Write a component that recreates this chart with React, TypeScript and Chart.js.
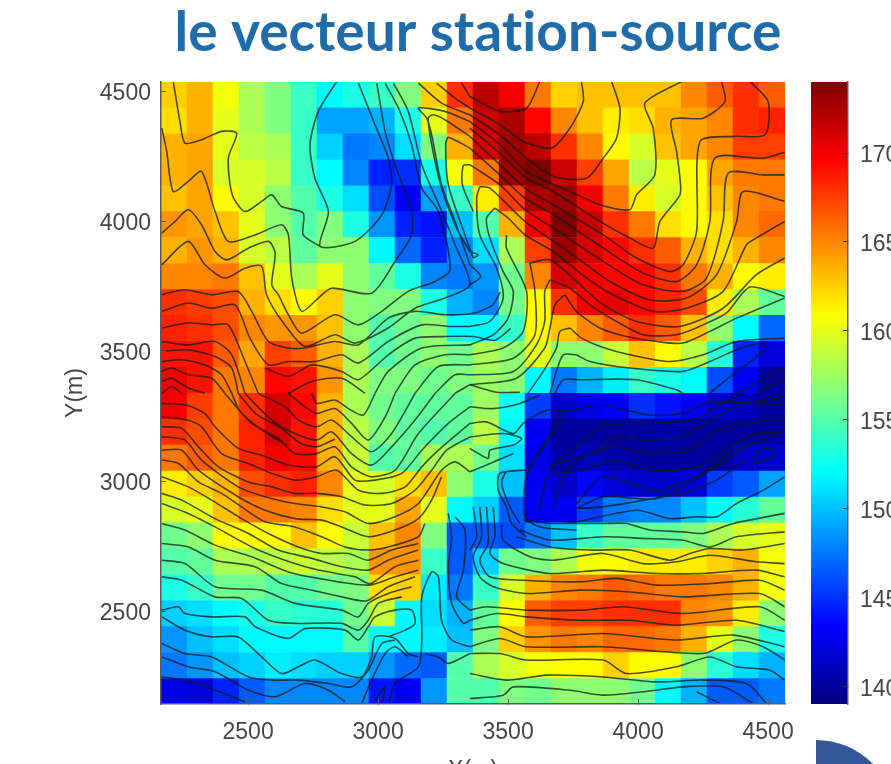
import React, { useEffect, useRef } from "react";
import { Chart, registerables } from "chart.js";

Chart.register(...registerables);

const titleText = "le vecteur station-source";
const xCenters = [2215, 2315, 2415, 2515, 2615, 2715, 2815, 2915, 3015, 3115, 3215, 3315, 3415, 3515, 3615, 3715, 3815, 3915, 4015, 4115, 4215, 4315, 4415, 4515];
const yCenters = [4488, 4389, 4289, 4189, 4089, 3990, 3890, 3790, 3690, 3591, 3491, 3391, 3291, 3192, 3092, 2992, 2892, 2793, 2693, 2593, 2493, 2394, 2294, 2194];
const xTicks = [2500, 3000, 3500, 4000, 4500];
const yTicks = [2500, 3000, 3500, 4000, 4500];
const colorTicks = [140, 145, 150, 155, 160, 165, 170];

const row00 = [162.5, 163.5, 160.5, 158, 156.5, 154, 152, 153, 154, 156.5, 162.5, 168, 172, 170, 165.5, 162.5, 163, 163, 163, 163, 165, 166.5, 168, 166.5];
const row01 = [162, 163.5, 160, 158, 156.5, 154, 149, 149, 149.5, 153, 160, 165.5, 171.5, 172.5, 169.5, 165, 163, 161.5, 162, 163.5, 164, 165, 168, 168.5];
const row02 = [163.5, 164, 160, 158.5, 158, 154, 150.5, 147.5, 148, 151, 156.5, 163.5, 171, 173, 172, 168, 165, 161, 159.5, 163, 164, 165, 167.5, 167.5];
const row03 = [163.5, 164, 159.5, 159.5, 158.5, 154, 152, 148, 144.5, 145, 153, 160.5, 165.5, 173, 174, 171.5, 167.5, 164, 158.5, 160, 161, 164, 165.5, 165.5];
const row04 = [163, 164, 161, 159.5, 157, 155, 153, 151, 146, 143, 149, 154, 161.5, 167.5, 172.5, 173, 170, 165.5, 161.5, 159.5, 161, 163, 165, 165.5];
const row05 = [164.5, 164, 163, 160, 157, 155, 156.5, 153, 148.5, 144.5, 144, 150, 155, 163.5, 170, 174, 171.5, 168, 165.5, 162, 161, 162, 165, 166];
const row06 = [163.5, 164.5, 163.5, 159.5, 158.5, 155.5, 157, 157, 152, 147, 144.5, 148, 151, 158, 167.5, 173, 171, 169.5, 168, 166.5, 163.5, 162, 163.5, 165];
const row07 = [165, 165, 165.5, 163, 160, 158, 160, 157, 155.5, 153, 148, 147.5, 148.5, 156, 165, 171, 170, 169.5, 169.5, 168, 165.5, 163.5, 161, 161.5];
const row08 = [168, 167.5, 167, 163.5, 162, 161, 162.5, 157, 156.5, 156.5, 153, 149.5, 148, 156, 161, 168, 170, 170.5, 169.5, 168.5, 167, 161.5, 158, 155.5];
const row09 = [168.5, 168, 167, 165, 164.5, 164.5, 163, 157, 155, 156, 157, 152, 152, 154, 161, 163, 165, 166.5, 168, 166.5, 163, 157, 152, 147];
const row10 = [169, 169, 166.5, 164, 167.5, 166.5, 163.5, 158, 155, 156, 157, 156, 158, 157, 160, 157, 157, 159, 163, 161, 158.5, 153.5, 144.5, 142];
const row11 = [170, 169, 165.5, 165, 169.5, 169, 164.5, 158, 156.5, 156.5, 156, 156.5, 157.5, 157, 152, 147.5, 149.5, 151.5, 154, 153, 152, 146, 143, 140];
const row12 = [170, 167.5, 165.5, 168, 171, 169.5, 163.5, 158, 156, 155.5, 155.5, 155.5, 157.5, 152.5, 145.5, 141.5, 142.5, 143, 145, 144, 143, 141.5, 141, 140];
const row13 = [168, 167, 165.5, 168.5, 171, 169, 163.5, 158.5, 156.5, 155.5, 155, 155.5, 158.5, 152, 143, 140, 140, 140, 140, 140.5, 140, 140, 140, 140];
const row14 = [165.5, 166.5, 165.5, 168.5, 170, 169.5, 163.5, 159, 155, 155.5, 158, 158, 156, 151, 142.5, 140.5, 141, 140.5, 140, 140, 140, 140, 141.5, 141.5];
const row15 = [161.5, 162.5, 163.5, 167, 168, 168.5, 165, 160, 159.5, 162, 163, 157, 153, 150, 143, 141.5, 143.5, 142, 141.5, 141.5, 142, 145.5, 146.5, 149];
const row16 = [159.5, 160, 163, 165.5, 165.5, 165, 162, 160, 160, 164, 160, 152, 150.5, 146.5, 143, 143, 145.5, 147.5, 148, 148, 150, 152, 153.5, 155.5];
const row17 = [156, 157, 161, 161, 161, 163, 161, 159, 163, 165, 156.5, 146.5, 146.5, 146, 147.5, 150, 154, 155.5, 155.5, 155.5, 156.5, 158, 159.5, 160];
const row18 = [155, 155.5, 158, 158, 158.5, 159, 158.5, 158, 164.5, 164.5, 154, 146.5, 150.5, 156, 156.5, 158, 160.5, 161, 161.5, 161.5, 161.5, 162.5, 163.5, 160.5];
const row19 = [153, 154, 156, 156, 155, 155, 156, 156.5, 162, 162.5, 151.5, 147.5, 154, 159.5, 163.5, 165, 165.5, 166.5, 166, 165.5, 165.5, 165, 163.5, 160.5];
const row20 = [150.5, 151, 152, 153, 154, 153.5, 153.5, 156, 159, 152, 151, 149.5, 155.5, 161, 166.5, 167.5, 167.5, 168, 168, 168, 165, 164.5, 161.5, 157];
const row21 = [148.5, 150, 151, 152, 152, 152, 152, 155, 152, 152, 151.5, 150, 156.5, 162.5, 164.5, 165.5, 165, 166, 166, 165.5, 163.5, 160, 157, 153];
const row22 = [147.5, 148.5, 150, 150.5, 151.5, 151, 150.5, 150.5, 148.5, 147, 146.5, 155, 158, 159.5, 160.5, 161, 161, 162.5, 161, 161, 157, 153.5, 151, 149.5];
const row23 = [142.5, 142, 144.5, 146.5, 148, 148, 148, 148, 144, 143, 148.5, 155, 155, 156.5, 156, 157, 157, 157, 156, 152, 149.5, 146.5, 146.5, 147.5];
const rows = [row00, row01, row02, row03, row04, row05, row06, row07, row08, row09, row10, row11, row12, row13, row14, row15, row16, row17, row18, row19, row20, row21, row22, row23];

// Contour lines, in axis units: x, y, x, y, ...
const contoursNorthWest = [
  [2841,4540,2770,4425,2738,4297,2757,4168,2809,4040,2777,3906,2911,3925,3014,4027,3052,4143,3039,4245,2988,4374,2924,4534],
  [2212,4540,2238,4386,2257,4303,2321,4316,2398,4348,2456,4341,2424,4245,2439,4104,2488,4040,2552,4079,2591,4104,2629,4059,2712,4034,2712,3950,2777,3906],
  [2168,4361,2187,4271,2212,4117,2270,4156,2321,4194,2373,4040,2424,3925,2527,3950,2629,3989,2655,3950,2668,3784,2706,3656,2770,3707,2821,3745,2975,3726,3065,3848,3129,3950,3129,4040,3065,4220,3027,4348,2995,4534],
  [2168,3957,2219,4002,2270,4047,2321,3989,2373,3886,2418,3854,2501,3899,2578,3925,2604,3880,2591,3758,2616,3720,2655,3643,2706,3572,2834,3643,2924,3604,3014,3656,3116,3733,3219,3771,3277,3816,3232,4040,3168,4130,3129,4297,3084,4425,3027,4534],
  [2168,3835,2270,3925,2334,3835,2411,3784,2488,3822,2552,3829,2571,3720,2636,3611,2719,3521,2834,3566,2911,3534,3039,3592,3142,3668,3257,3707,3353,3758,3296,3912,3245,4040,3168,4220,3116,4425,3059,4534],
  [3155,4534,3244,4457,3353,4412],
  [3225,4534,3296,4476,3353,4438],
  [3321,4534,3353,4482],
  [3353,4386,3257,4425,3155,4438,3187,4399,3206,4335,3244,4143,3296,4002,3353,3835],
  [3353,4329,3257,4393,3212,4412,3193,4399,3206,4297,3244,4130,3302,3976,3353,3886],
  [3353,4284,3270,4325,3260,4297,3270,4143,3334,3950,3366,3861],
  [3353,4220,3328,4217,3324,4143,3366,4040],
  [3353,3758,3395,3790,3353,3835],
  [3353,3886,3385,3873,3366,3861],
  [2168,3720,2257,3739,2360,3720,2462,3732,2514,3656,2578,3540,2655,3515,2719,3515,2834,3540,2924,3527,3039,3630,3142,3656,3257,3643,3366,3649,3440,3680,3470,3730],
  [2168,3656,2270,3688,2360,3668,2450,3681,2507,3553,2578,3450,2655,3463,2757,3463,2860,3489,2924,3457,3039,3540,3168,3604,3270,3598,3353,3598],
  [2168,3592,2270,3611,2360,3604,2424,3604,2488,3463,2539,3341],
  [2168,3540,2270,3527,2373,3540,2437,3489,2488,3341],
  [2168,3502,2270,3508,2373,3482,2437,3438,2462,3341],
  [2168,3463,2245,3470,2334,3450,2398,3412,2437,3341],
  [2168,3425,2206,3438,2270,3412,2360,3399,2411,3341],
  [2168,3386,2206,3399,2270,3361,2334,3341],
  [2168,3341,2206,3367,2245,3341],
  [2565,3438,2655,3406,2745,3450,2860,3425,2924,3393,3039,3489,3142,3553,3257,3559,3366,3559,3450,3545,3510,3590],
  [2655,3341,2745,3386,2860,3399,2950,3341],
  [2988,3341,3039,3425,3168,3515,3353,3527],
  [3065,3341,3142,3450,3257,3489,3353,3489],
  [3142,3341,3232,3444,3353,3450],
  [3219,3341,3296,3412,3353,3412],
  [3296,3341,3353,3374],
];
const contoursSouthWest = [
  [2745,3340,2764,3302,2834,3315,2886,3282,2943,3257,2988,3340],
  [2655,3340,2719,3289,2764,3263,2834,3282,2898,3225,2962,3161,3027,3250,3065,3340],
  [2539,3340,2642,3289,2693,3238,2764,3212,2821,3238,2898,3174,2975,3116,3052,3186,3142,3340],
  [2488,3340,2591,3238,2680,3186,2764,3161,2821,3193,2898,3109,2975,3065,3052,3135,3142,3238,3219,3340],
  [2411,3340,2514,3225,2616,3167,2680,3109,2764,3109,2834,3135,2898,3058,2975,3020,3065,3045,3155,3186,3296,3340],
  [2462,3341,2530,3262,2630,3205,2700,3150,2764,3135,2834,3165],
  [2437,3341,2470,3270,2560,3195,2650,3140],
  [2168,3302,2264,3295,2334,3263,2373,3212,2462,3129,2552,3103,2655,3065,2764,3058,2834,3097,2911,3007,2988,3007,3091,3033,3168,3122,3270,3225,3353,3289],
  [2168,3250,2264,3238,2321,3212,2398,3109,2501,3071,2591,3033,2680,3007,2764,3020,2841,3045,2924,2968,3014,2956,3104,2981,3168,3058,3232,3122,3353,3225],
  [2168,3212,2245,3206,2309,3135,2386,3058,2501,3000,2591,2981,2680,2956,2764,2956,2860,2943,2950,2911,3052,2917,3142,2968,3206,3045,3264,3122,3353,3173],
  [2168,3174,2257,3161,2321,3084,2462,2981,2565,2943,2680,2917,2783,2904,2873,2885,2962,2840,3065,2866,3155,2917,3244,3045,3296,3077,3353,3039],
  [2168,3122,2245,3122,2309,3045,2462,2943,2565,2891,2680,2859,2783,2853,2860,2827,2962,2789,3065,2815,3155,2859,3206,2930,3244,3020],
  [2168,3084,2232,3071,2309,3000,2398,2956,2475,2904,2565,2847,2680,2827,2783,2789,2873,2750,2962,2738,3039,2750,3155,2789,3180,2840],
  [2168,3020,2270,2981,2360,2930,2475,2859,2578,2802,2693,2750,2783,2725,2886,2725,2962,2699,3052,2738,3155,2763],
  [2168,2956,2245,2930,2373,2859,2501,2802,2616,2738,2745,2706,2860,2674,2962,2661,3039,2699,3155,2738],
  [2168,2917,2270,2879,2373,2827,2514,2750,2642,2699,2770,2661,2911,2635,2969,2609,3065,2674,3155,2699],
  [2168,2840,2257,2815,2373,2757,2514,2712,2655,2654,2770,2629,2962,2603,3065,2635,3155,2661],
  [2168,2763,2270,2750,2373,2699,2527,2674,2629,2609,2745,2584,2860,2558,2956,2543,3039,2597,3142,2635],
  [2168,2699,2257,2686,2373,2597,2552,2584,2680,2533,2860,2507,2924,2481,2962,2533,3039,2571,3129,2597],
  [2168,2635,2245,2622,2373,2558,2475,2552,2578,2468,2680,2456,2860,2456,2924,2430,2962,2468,3001,2533,3091,2558],
  [2168,2507,2232,2520,2257,2494,2360,2481,2488,2481,2527,2443,2655,2398,2719,2436,2873,2430,2924,2392,2962,2443,2988,2481,3065,2507,3129,2507,3142,2456,3104,2430,3039,2404],
  [2168,2481,2257,2430,2360,2404,2462,2404,2552,2327,2629,2263,2693,2289,2757,2315,2860,2263,2937,2250,2975,2327,2988,2404,3065,2398,3116,2340,3155,2327],
  [2168,2379,2257,2340,2360,2327,2501,2250,2591,2238,2693,2238,2809,2225,2898,2212,2962,2276,3014,2379,3065,2392],
  [2168,2327,2270,2289,2373,2270,2501,2199,2604,2174,2719,2225,2809,2199,2873,2154],
  [2168,2250,2257,2238,2360,2206,2488,2154],
  [2937,2148,2975,2238,3027,2340,3065,2366,3116,2327],
  [2988,2161,3027,2212,3014,2142],
  [3039,2142,3065,2225,3155,2289,3168,2392,3168,2558,3206,2654,3232,2635,3244,2468,3283,2392,3353,2366],
  [3180,2340,3232,2327,3270,2302,3353,2340],
  [3270,2879,3283,2789,3270,2674,3283,2533,3328,2456,3353,2468],
  [3296,2866,3334,2815,3328,2661,3302,2558,3353,2507],
];
const contoursNorthEast = [
  [3353,4482,3468,4425,3571,4438,3622,4540],
  [3353,4438,3468,4374,3558,4309,3667,4284,3738,4361,3789,4463,3782,4540],
  [3353,4412,3468,4335,3571,4245,3674,4175,3802,4168,3866,4245,3917,4322,3930,4438,3898,4540],
  [3353,4386,3468,4297,3571,4194,3738,4117,3853,4066,3968,4047,3994,4104,4064,4181,4058,4361,4026,4457,4167,4540],
  [3353,4361,3468,4265,3571,4168,3674,4117,3853,4002,3968,3938,4058,3899,4084,4002,4161,4104,4161,4168,4148,4271,4129,4393,4250,4399,4334,4463,4321,4540],
  [3353,4329,3468,4220,3565,4130,3674,4066,3866,3950,3994,3861,4122,3809,4173,3835,4225,3963,4238,4309,4366,4329,4488,4335,4500,4463,4430,4540],
  [3353,4284,3468,4181,3565,4091,3674,4027,3866,3899,4020,3803,4148,3771,4225,3835,4276,4002,4295,4245,4481,4245,4564,4268],
  [3353,4220,3468,4143,3565,4047,3674,3976,3866,3848,4020,3758,4173,3733,4263,3784,4327,4002,4347,4188,4481,4181,4564,4181],
  [3391,4136,3430,4130,3565,4002,3674,3925,3802,3835,3891,3771,4045,3700,4186,3707,4302,3797,4379,4002,4404,4117,4564,4079],
  [3449,4053,3500,4015,3565,3950,3674,3886,3802,3784,3904,3720,4058,3656,4186,3668,4327,3733,4417,3912,4455,3938,4564,4002],
  [3584,3842,3661,3854,3763,3771,3866,3681,3994,3617,4161,3598,4327,3668,4455,3797,4564,3861],
  [3391,4136,3379,4091,3391,3950,3456,3822,3481,3707,3430,3617,3353,3598],
  [3449,4053,3417,4014,3430,3938,3481,3809,3520,3733,3500,3630,3443,3566,3353,3527],
  [3494,3950,3494,3899,3571,3733,3558,3579,3481,3515,3353,3489],
  [3584,3842,3603,3733,3603,3566,3520,3476,3353,3450],
  [3661,3777,3641,3733,3641,3617,3609,3527,3520,3425,3353,3412],
  [3661,3777,3738,3745,3815,3681,3917,3617,4020,3566,4148,3566,4250,3604,4340,3650,4430,3750,4564,3713],
  [3718,3720,3680,3681,3661,3592,3641,3515,3532,3399,3353,3374],
  [3718,3720,3763,3656,3853,3592,3955,3559,4071,3540,4173,3534,4276,3579,4379,3630,4564,3707],
  [3738,3592,3699,3579,3686,3515,3635,3425,3577,3341],
  [3738,3592,3783,3553,3866,3517,3968,3489,4122,3463,4250,3489,4379,3540,4564,3553],
  [3763,3489,3712,3489,3686,3425,3661,3341],
  [3763,3489,3815,3463,3968,3438,4173,3425,4276,3463,4379,3508,4475,3534,4481,3502,4379,3425,4276,3341],
  [3680,3341,3712,3393,3776,3393,3994,3393,4148,3354,4173,3341],
  [4379,3341,4564,3438],
  [4455,3341,4564,3399],
];
const contoursSouthEast = [
  [3353,3374,3456,3345,3545,3345],
  [3353,3289,3443,3282,3545,3302,3622,3334],
  [3353,3225,3417,3231,3520,3186,3558,3225,3648,3276,3712,3263,3674,3186,3571,3045],
  [4564,3295,4468,3302,4263,3302,4173,3263,4045,3257,3866,3295,3738,3276,3699,3270,3661,3186,3571,3020,3565,2866,3622,2827,3763,2815],
  [3616,2885,3661,3045,3763,3135,3866,3218,4045,3225,4225,3244,4327,3302,4404,3340],
  [3674,2898,3725,3045,3827,3116,3917,3174,4032,3161,4173,3174,4276,3238,4379,3289,4564,3330],
  [3667,3065,3789,3097,3904,3135,4045,3109,4199,3122,4302,3199,4455,3231,4564,3244],
  [3674,3033,3789,3045,3904,3084,4045,3045,4225,3058,4353,3135,4443,3186,4564,3193],
  [3763,2898,3866,2943,4071,2936,4237,3020,4379,3109,4468,3161,4564,3199],
  [3763,2917,3866,3020,4071,2968,4250,3033,4366,3122,4420,3140],
  [4443,3090,4481,3129,4520,3122,4507,3090,4449,3074,4443,3090],
  [3558,2853,3674,2840,3763,2847,3994,2891,4122,2859,4225,2866,4302,2866,4379,2917,4481,2968,4564,3020],
  [3763,2898,3866,2904,4097,2943,4173,2956,4302,3007,4417,3090],
  [3661,2840,3866,2840,3955,2840,4045,2815,4173,2808,4250,2802,4366,2840,4564,2879],
  [3545,2815,3661,2776,3866,2789,4020,2783,4173,2776,4276,2750,4379,2789,4564,2808],
  [3532,2789,3661,2750,3814,2738,3968,2738,4122,2699,4199,2725,4276,2744,4404,2738,4564,2763],
  [3475,2840,3481,2776,3584,2712,3674,2699,3866,2725,4020,2686,4148,2693,4276,2718,4455,2693,4564,2686],
  [3443,2904,3449,2789,3430,2725,3481,2686,3661,2648,3866,2661,4071,2648,4250,2648,4455,2661,4564,2635],
  [3417,2904,3423,2763,3391,2699,3430,2635,3558,2622,3776,2616,3917,2629,4071,2603,4276,2609,4468,2622,4564,2584],
  [3391,2904,3398,2789,3366,2712,3391,2635,3443,2597,3571,2571,3776,2584,3968,2577,4173,2558,4468,2571,4564,2520],
  [3366,2904,3379,2789,3353,2738],
  [3353,2507,3417,2520,3571,2507,3789,2507,3943,2520,4173,2494,4468,2520,4564,2468],
  [3353,2468,3456,2494,3571,2481,3776,2468,3968,2468,4148,2449,4379,2468,4564,2424],
  [3353,2430,3468,2443,3571,2404,3866,2417,4148,2392,4366,2411,4564,2366],
  [3353,2366,3468,2398,3571,2366,3866,2366,4250,2340,4379,2392,4481,2366,4564,2315],
  [3353,2340,3468,2340,3571,2315,3866,2315,3955,2263,4148,2289,4276,2327,4379,2289,4507,2276,4564,2238],
  [3353,2263,3494,2238,3648,2257,3866,2250,4071,2231,4250,2238,4417,2225,4494,2148],
  [3353,2167,3481,2180,3520,2212,3738,2199,3866,2180,4020,2193,4173,2212,4327,2212,4443,2148],
  [4225,2193,4315,2148],
  [3353,3173,3481,3186,3552,3167,3520,3142,3430,3122,3423,3090,3353,3129],
  [3353,3039,3417,3065,3520,3109],
  [3565,3045,3494,3039,3475,2994,3507,2904,3545,2840],
  [3558,3045,3468,3033,3462,2968,3494,2904,3513,2840,3571,2789],
];
const contourGroups = [contoursNorthWest, contoursSouthWest, contoursNorthEast, contoursSouthEast];

const X_MIN = 2165;
const X_MAX = 4565;
const Y_MIN = 2146;
const Y_MAX = 4538;
const C_MIN = 139;
const C_MAX = 174;

const clamp01 = (v: number) => Math.max(0, Math.min(1, v));
function jet(value: number) {
  const t = clamp01((value - C_MIN) / (C_MAX - C_MIN));
  const r = clamp01(1.5 - Math.abs(4 * t - 3));
  const g = clamp01(1.5 - Math.abs(4 * t - 2));
  const b = clamp01(1.5 - Math.abs(4 * t - 1));
  return `rgb(${Math.round(r * 255)},${Math.round(g * 255)},${Math.round(b * 255)})`;
}

type P = { x: number; y: number };
function groupPoints(lines: number[][]): P[] {
  const out: P[] = [];
  for (const line of lines) {
    for (let i = 0; i + 1 < line.length; i += 2) out.push({ x: line[i], y: line[i + 1] });
    out.push({ x: NaN, y: NaN });
  }
  return out;
}

const TICK = "#454545";
const AXIS = "#5a5a5a";
const tickFont = { family: "'Liberation Sans', Arial, sans-serif", size: 23 };
const plainLabel = (v: number | string) => String(v);

const titleTweaks = {
  id: "titleTweaks",
  afterLayout(chart: any) {
    if (chart.titleBlock) {
      chart.titleBlock.left += 5;
      chart.titleBlock.right += 5;
    }
  },
  beforeDraw(chart: any) {
    chart.ctx.letterSpacing = "0.01px"; // keeps "ti" as two letters
  },
};

export default function App() {
  const mainRef = useRef<HTMLCanvasElement>(null);
  const barRef = useRef<HTMLCanvasElement>(null);

  useEffect(() => {
    const cells: P[] = [];
    const colors: string[] = [];
    rows.forEach((row, j) =>
      row.forEach((v, i) => {
        cells.push({ x: xCenters[i], y: yCenters[j] });
        colors.push(jet(v));
      })
    );
    const contourSets = contourGroups.map((lines, k) => ({
      type: "scatter" as const,
      label: `contours ${k}`,
      data: groupPoints(lines),
      showLine: true,
      spanGaps: false,
      pointRadius: 0,
      borderColor: "rgba(15,25,25,0.75)",
      borderWidth: 1.6,
      tension: 0.25,
      order: 1,
    }));
    const main = new Chart(mainRef.current as HTMLCanvasElement, {
      type: "scatter",
      plugins: [titleTweaks],
      data: {
        datasets: [
          {
            label: "cells",
            data: cells,
            pointStyle: "rect",
            pointRadius: 26.5 * Math.SQRT1_2,
            pointHoverRadius: 26.5 * Math.SQRT1_2,
            pointBorderWidth: 0,
            backgroundColor: colors,
            order: 2,
          },
          ...contourSets,
        ],
      },
      options: {
        responsive: false,
        animation: false,
        events: [],
        layout: { padding: { left: 0, right: 106, top: 0, bottom: 0 } },
        plugins: {
          legend: { display: false },
          tooltip: { enabled: false },
          title: {
            display: true,
            text: titleText,
            fullSize: false,
            color: "#1f6cab",
            font: { family: "Lato, 'Open Sans', sans-serif", size: 55, weight: "bold", lineHeight: 1.2 },
            padding: { top: 0, bottom: 16 },
          },
        },
        scales: {
          x: {
            type: "linear",
            min: X_MIN,
            max: X_MAX,
            afterBuildTicks: (s: any) => { s.ticks = xTicks.map((value) => ({ value })); },
            afterFit: (s: any) => { s.height = 60; },
            border: { display: true, color: AXIS, width: 1.5, z: 2 },
            grid: { drawOnChartArea: false, drawTicks: true, tickLength: -5, tickColor: AXIS, z: 2 },
            ticks: { color: TICK, font: tickFont, padding: 20, maxRotation: 0, autoSkip: false, callback: plainLabel },
            title: { display: true, text: "X(m)", color: TICK, font: tickFont, padding: { top: 0, bottom: -20 } },
          },
          y: {
            type: "linear",
            min: Y_MIN,
            max: Y_MAX,
            afterBuildTicks: (s: any) => { s.ticks = yTicks.map((value) => ({ value })); },
            afterFit: (s: any) => { s.width = 161; },
            border: { display: true, color: AXIS, width: 1.5, z: 2 },
            grid: { drawOnChartArea: false, drawTicks: true, tickLength: -5, tickColor: AXIS, z: 2 },
            ticks: { color: TICK, font: tickFont, padding: 15, autoSkip: false, labelOffset: 2, callback: plainLabel },
            title: { display: true, text: "Y(m)", color: TICK, font: tickFont, padding: { top: 62, bottom: 0 } },
          },
        },
      },
    } as any);

    const bar = new Chart(barRef.current as HTMLCanvasElement, {
      type: "bar",
      data: {
        labels: ["colorbar"],
        datasets: [
          {
            label: "colour scale",
            data: [[C_MIN, C_MAX]],
            barPercentage: 1,
            categoryPercentage: 1,
            borderWidth: 0,
            backgroundColor: (ctx: any) => {
              const area = ctx.chart.chartArea;
              if (!area) return "#000";
              const g = ctx.chart.ctx.createLinearGradient(0, area.bottom, 0, area.top);
              for (let s = 0; s <= 64; s++) {
                g.addColorStop(s / 64, jet(C_MIN + ((C_MAX - C_MIN) * s) / 64));
              }
              return g;
            },
          },
        ],
      },
      options: {
        responsive: false,
        animation: false,
        events: [],
        layout: { padding: { left: 21, right: 0, top: 82, bottom: 60 } },
        plugins: { legend: { display: false }, tooltip: { enabled: false } },
        scales: {
          x: { display: false },
          y: {
            type: "linear",
            position: "right",
            min: C_MIN,
            max: C_MAX,
            afterBuildTicks: (s: any) => { s.ticks = colorTicks.map((value) => ({ value })); },
            afterFit: (s: any) => { s.width = 43; },
            border: { display: true, color: AXIS, width: 1.5, z: 2 },
            grid: { drawOnChartArea: false, drawTicks: true, tickLength: -5, tickColor: "#333", z: 2 },
            ticks: { color: TICK, font: tickFont, padding: 17, autoSkip: false, labelOffset: 3, callback: plainLabel },
          },
        },
      },
    } as any);

    return () => {
      main.destroy();
      bar.destroy();
    };
  }, []);

  return (
    <div style={{ position: "fixed", left: 0, top: 0, width: 891, height: 764, overflow: "hidden", background: "#fff" }}>
      <canvas ref={mainRef} width={891} height={764} style={{ position: "absolute", left: 0, top: 0, display: "block" }} />
      <canvas ref={barRef} width={101} height={764} style={{ position: "absolute", left: 790, top: 0, display: "block" }} />
      <div style={{ position: "absolute", left: 816, top: 740, width: 75, height: 24, overflow: "hidden" }}>
        <div style={{ width: 80, height: 160, background: "#35589a", borderTopRightRadius: 80 }} />
      </div>
    </div>
  );
}
